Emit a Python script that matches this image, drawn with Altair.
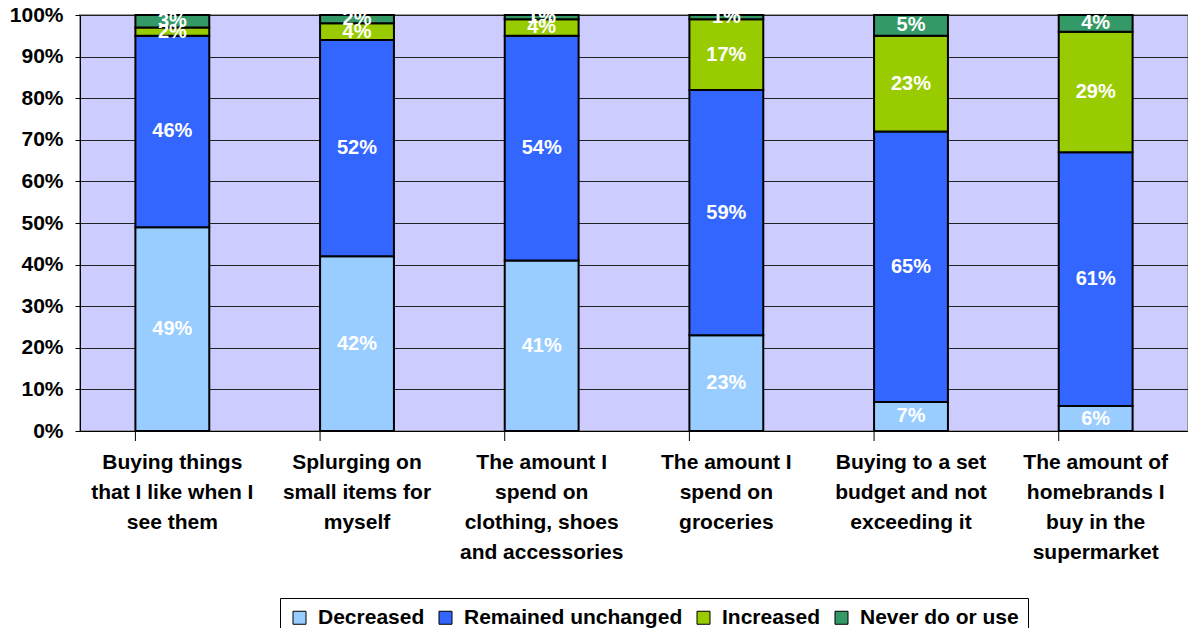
import altair as alt
import pandas as pd

categories = [
    "Buying things|that I like when I|see them",
    "Splurging on|small items for|myself",
    "The amount I|spend on|clothing, shoes|and accessories",
    "The amount I|spend on|groceries",
    "Buying to a set|budget and not|exceeding it",
    "The amount of|homebrands I|buy in the|supermarket",
]
series = ["Decreased", "Remained unchanged", "Increased", "Never do or use"]
colors = ["#99CCFF", "#3366FF", "#99CC00", "#339966"]
decreased = [49, 42, 41, 23, 7, 6]
remained = [46, 52, 54, 59, 65, 61]
increased = [2, 4, 4, 17, 23, 29]
never = [3, 2, 1, 1, 5, 4]

rows = []
for si, (name, vals) in enumerate(zip(series, [decreased, remained, increased, never])):
    for c, v in zip(categories, vals):
        rows.append({"cat": c, "series": name, "idx": si, "value": v})
df = pd.DataFrame(rows)

FONT = "Liberation Sans"

x_enc = alt.X(
    "cat:N",
    sort=categories,
    scale=alt.Scale(paddingInner=0.6, paddingOuter=0.3),
    axis=alt.Axis(
        title=None,
        labelExpr="split(datum.label, '|')",
        labelAngle=0,
        labelFont=FONT,
        labelFontWeight="bold",
        labelFontSize=21,
        labelColor="black",
        labelLineHeight=30,
        labelPadding=20,
        labelBaseline="top",
        labelLimit=0,
        ticks=False,
        domainColor="black",
        domainWidth=1,
    ),
)

base = alt.Chart(df).transform_stack(
    stack="value", groupby=["cat"], as_=["v0", "v1"], sort=[alt.SortField("idx", order="ascending")]
).transform_calculate(mid="(datum.v0 + datum.v1) / 2", lbl="datum.value + '%'")

bars = base.mark_bar(stroke="black", strokeWidth=2).encode(
    x=x_enc,
    y=alt.Y(
        "v0:Q",
        scale=alt.Scale(domain=[0, 100], nice=False),
        axis=alt.Axis(
            title=None,
            values=list(range(0, 101, 10)),
            labelExpr="datum.value + '%'",
            labelFont=FONT,
            labelFontWeight="bold",
            labelFontSize=21,
            labelColor="black",
            labelPadding=12,
            tickSize=5,
            tickColor="black",
            domainColor="black",
            grid=True,
            gridColor="#222222",
            gridWidth=1,
        ),
    ),
    y2="v1:Q",
    color=alt.Color(
        "series:N",
        sort=series,
        scale=alt.Scale(domain=series, range=colors),
        legend=alt.Legend(
            title=None,
            orient="none",
            legendX=200,
            legendY=583,
            direction="horizontal",
            symbolType="square",
            symbolSize=169,
            symbolStrokeColor="black",
            symbolStrokeWidth=1,
            symbolOpacity=1,
            labelFont=FONT,
            labelFontWeight="bold",
            labelFontSize=21,
            labelColor="black",
            labelLimit=0,
            labelOffset=8,
            columnPadding=10,
            padding=9,
            fillColor="white",
            strokeColor="black",
        ),
    ),
)

labels = base.mark_text(
    color="white", font=FONT, fontWeight="bold", fontSize=20, baseline="middle", align="center"
).encode(
    x=alt.X("cat:N", sort=categories),
    y="mid:Q",
    text="lbl:N",
)

sep = alt.Chart(pd.DataFrame({"cat": categories})).mark_rule(color="black", strokeWidth=1).encode(
    x=alt.X("cat:N", sort=categories, bandPosition=0),
    y=alt.value(416),
    y2=alt.value(426),
)

chart = (
    alt.layer(bars, labels, sep)
    .properties(
        width=1108,
        height=416,
        autosize=alt.AutoSizeParams(type="none"),
        padding={"left": 72, "top": 7, "right": 0, "bottom": 197},
        background="white",
    )
    .configure_view(fill="#CCCCFF", stroke="#999999", strokeWidth=2)
)

chart.save("out.html", embed_options={"renderer": "svg", "actions": False})
